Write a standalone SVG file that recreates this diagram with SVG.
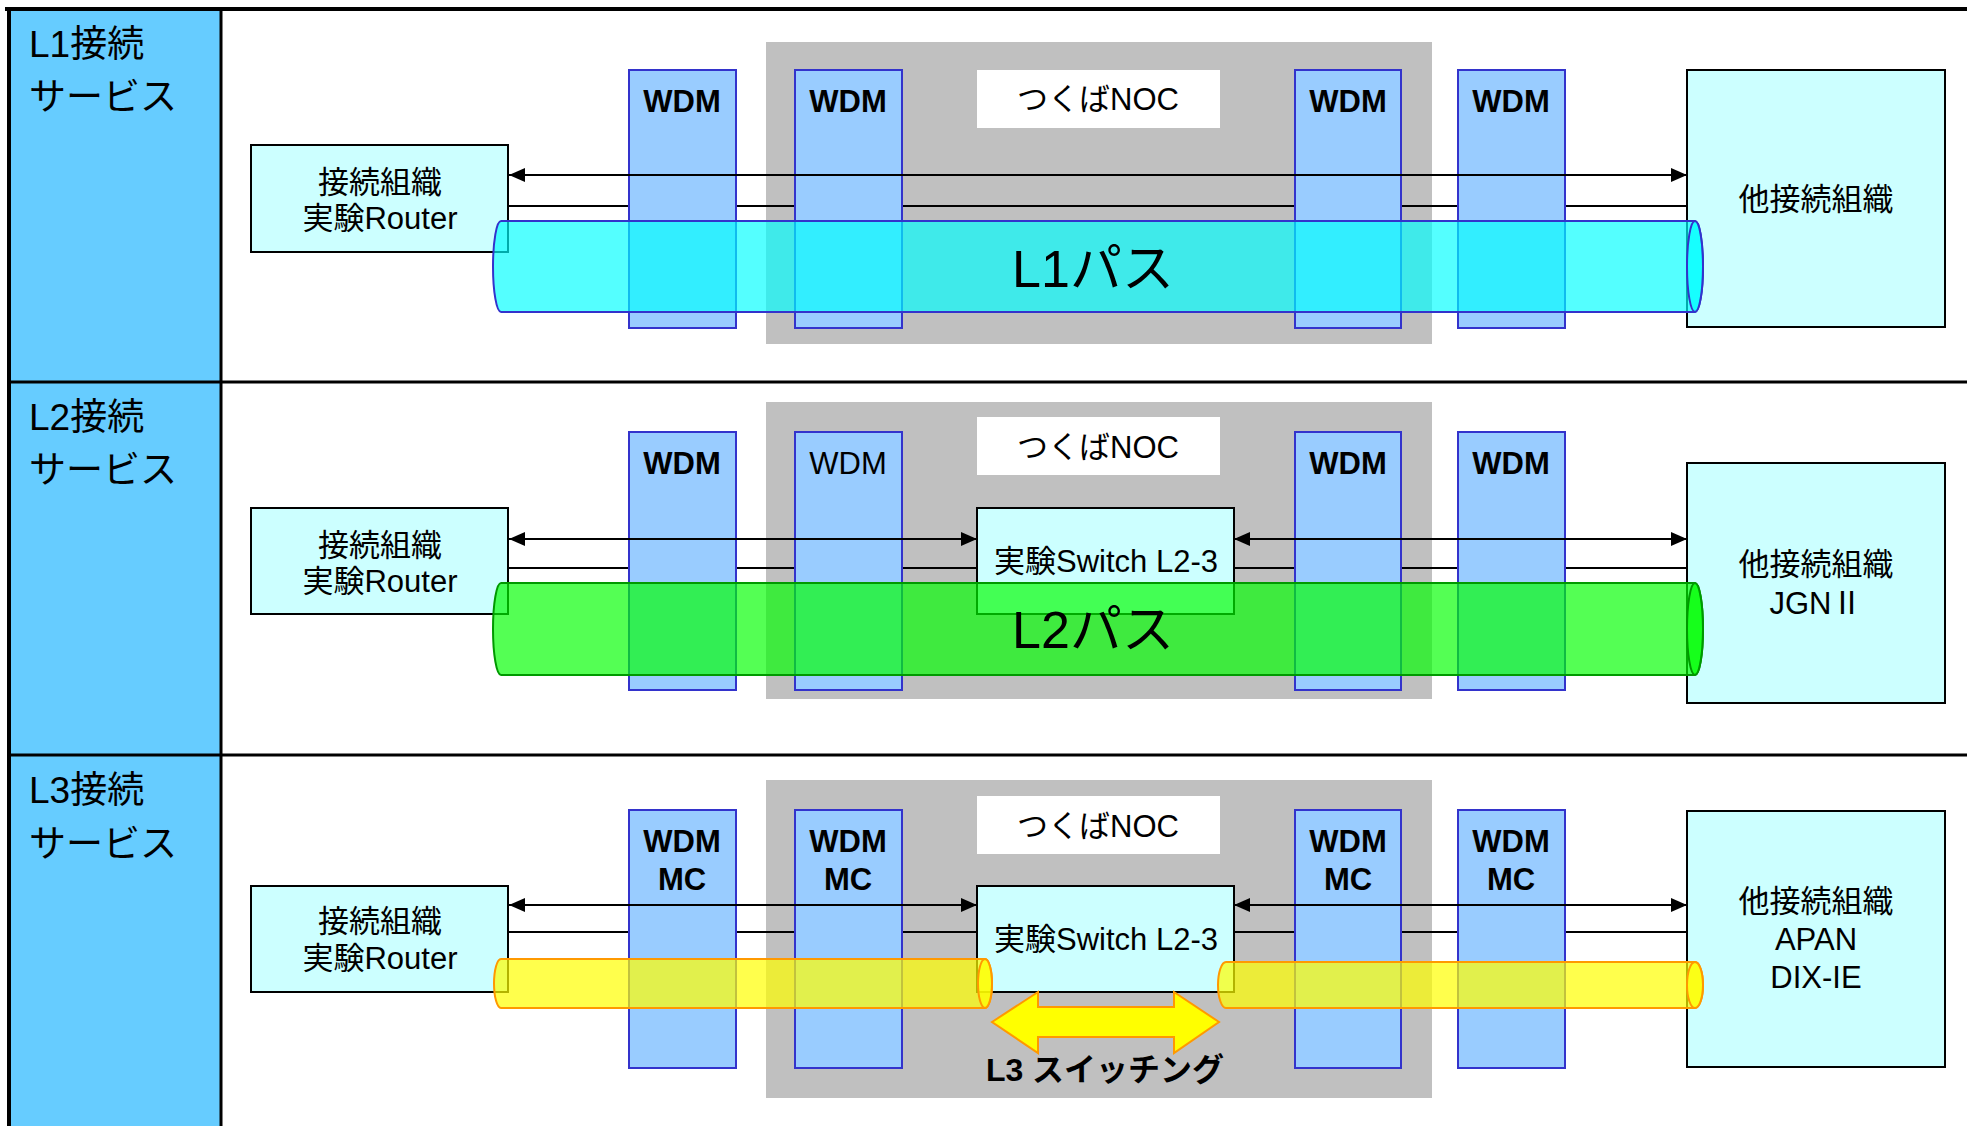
<svg xmlns="http://www.w3.org/2000/svg" width="1967" height="1126" viewBox="0 0 1967 1126">
<style>
.jp{font-family:"Liberation Sans","Noto Sans CJK JP",sans-serif;fill:#000}
.lbl{font-size:37px}
.box{font-size:31px;text-anchor:middle}
.wdm{font-family:"Liberation Sans",sans-serif;font-size:31px;font-weight:bold;text-anchor:middle}
.wdmr{font-family:"Liberation Sans",sans-serif;font-size:31px;text-anchor:middle}
.wdmbox{fill:#99CCFF;stroke:#3333CC;stroke-width:2}
.org{fill:#CCFFFF;stroke:#000;stroke-width:2}
.noc{fill:#C0C0C0}
.nocw{fill:#FFFFFF}
.ln{stroke:#000;stroke-width:2;fill:none}
.path{font-size:52px;text-anchor:middle}
.cyl1{fill:rgba(0,255,255,0.67);stroke:#3333CC;stroke-width:2}
.cyl2{fill:rgba(0,255,0,0.67);stroke:#009900;stroke-width:2}
.cyl3{fill:rgba(255,255,0,0.7);stroke:#FF9900;stroke-width:2}
</style>
<defs>
<marker id="ah" markerUnits="userSpaceOnUse" markerWidth="16" markerHeight="14" refX="16" refY="7" orient="auto-start-reverse" viewBox="0 0 16 14">
<path d="M0,0 L16,7 L0,14 Z" fill="#000"/>
</marker>
</defs>
<rect x="0" y="0" width="1967" height="1126" fill="#FFFFFF"/>
<g id="frame">
<rect x="11" y="11" width="210" height="1115" fill="#66CCFF"/>
<line x1="5" y1="9" x2="1967" y2="9" stroke="#000" stroke-width="4"/>
<line x1="9" y1="7" x2="9" y2="1126" stroke="#000" stroke-width="4"/>
<line x1="221" y1="9" x2="221" y2="1126" stroke="#000" stroke-width="3"/>
<line x1="9" y1="382" x2="1967" y2="382" stroke="#000" stroke-width="3"/>
<line x1="9" y1="755" x2="1967" y2="755" stroke="#000" stroke-width="3"/>
</g>
<g id="labels">
<text class="jp lbl" x="29" y="57">L1接続</text>
<text class="jp lbl" x="29" y="110">サービス</text>
<text class="jp lbl" x="29" y="430">L2接続</text>
<text class="jp lbl" x="29" y="483">サービス</text>
<text class="jp lbl" x="29" y="803">L3接続</text>
<text class="jp lbl" x="29" y="857">サービス</text>
</g>
<g id="noc1"><rect class="noc" x="766" y="42" width="666" height="302"/><rect class="nocw" x="977" y="70" width="243" height="58"/><text class="jp box" x="1098" y="110">つくばNOC</text></g>
<g id="noc2"><rect class="noc" x="766" y="402" width="666" height="297"/><rect class="nocw" x="977" y="417" width="243" height="58"/><text class="jp box" x="1098" y="458">つくばNOC</text></g>
<g id="noc3"><rect class="noc" x="766" y="780" width="666" height="318"/><rect class="nocw" x="977" y="796" width="243" height="58"/><text class="jp box" x="1098" y="837">つくばNOC</text></g>
<g id="connectors-under">
<line class="ln" x1="508" y1="206" x2="1688" y2="206"/>
<line class="ln" x1="508" y1="568" x2="977" y2="568"/>
<line class="ln" x1="1234" y1="568" x2="1688" y2="568"/>
<line class="ln" x1="508" y1="932" x2="977" y2="932"/>
<line class="ln" x1="1234" y1="932" x2="1688" y2="932"/>
</g>
<g id="wdm-row1">
<rect class="wdmbox" x="629" y="70" width="107" height="258"/><text class="wdm" x="682" y="112">WDM</text>
<rect class="wdmbox" x="795" y="70" width="107" height="258"/><text class="wdm" x="848" y="112">WDM</text>
<rect class="wdmbox" x="1295" y="70" width="106" height="258"/><text class="wdm" x="1348" y="112">WDM</text>
<rect class="wdmbox" x="1458" y="70" width="107" height="258"/><text class="wdm" x="1511" y="112">WDM</text>
</g>
<g id="wdm-row2">
<rect class="wdmbox" x="629" y="432" width="107" height="258"/><text class="wdm" x="682" y="474">WDM</text>
<rect class="wdmbox" x="795" y="432" width="107" height="258"/><text class="wdmr" x="848" y="474">WDM</text>
<rect class="wdmbox" x="1295" y="432" width="106" height="258"/><text class="wdm" x="1348" y="474">WDM</text>
<rect class="wdmbox" x="1458" y="432" width="107" height="258"/><text class="wdm" x="1511" y="474">WDM</text>
</g>
<g id="wdm-row3">
<rect class="wdmbox" x="629" y="810" width="107" height="258"/><text class="wdm" x="682" y="852">WDM</text><text class="wdm" x="682" y="890">MC</text>
<rect class="wdmbox" x="795" y="810" width="107" height="258"/><text class="wdm" x="848" y="852">WDM</text><text class="wdm" x="848" y="890">MC</text>
<rect class="wdmbox" x="1295" y="810" width="106" height="258"/><text class="wdm" x="1348" y="852">WDM</text><text class="wdm" x="1348" y="890">MC</text>
<rect class="wdmbox" x="1458" y="810" width="107" height="258"/><text class="wdm" x="1511" y="852">WDM</text><text class="wdm" x="1511" y="890">MC</text>
</g>
<g id="connectors">
<line class="ln" x1="509" y1="175" x2="1687" y2="175" marker-start="url(#ah)" marker-end="url(#ah)"/>
<line class="ln" x1="509" y1="539" x2="977" y2="539" marker-start="url(#ah)" marker-end="url(#ah)"/>
<line class="ln" x1="1234" y1="539" x2="1687" y2="539" marker-start="url(#ah)" marker-end="url(#ah)"/>
<line class="ln" x1="509" y1="905" x2="977" y2="905" marker-start="url(#ah)" marker-end="url(#ah)"/>
<line class="ln" x1="1234" y1="905" x2="1687" y2="905" marker-start="url(#ah)" marker-end="url(#ah)"/>
</g>
<g id="router1"><rect class="org" x="251" y="145" width="257" height="107"/><text class="jp box" x="380" y="193">接続組織</text><text class="jp box" x="380" y="229">実験Router</text></g>
<g id="router2"><rect class="org" x="251" y="508" width="257" height="106"/><text class="jp box" x="380" y="556">接続組織</text><text class="jp box" x="380" y="592">実験Router</text></g>
<g id="router3"><rect class="org" x="251" y="886" width="257" height="106"/><text class="jp box" x="380" y="932">接続組織</text><text class="jp box" x="380" y="969">実験Router</text></g>
<g id="other1"><rect class="org" x="1687" y="70" width="258" height="257"/><text class="jp box" x="1816" y="210">他接続組織</text></g>
<g id="other2"><rect class="org" x="1687" y="463" width="258" height="240"/><text class="jp box" x="1816" y="575">他接続組織</text><text class="jp box" x="1816" y="614">JGN<tspan font-family="'Noto Sans CJK JP',sans-serif">Ⅱ</tspan></text></g>
<g id="other3"><rect class="org" x="1687" y="811" width="258" height="256"/><text class="jp box" x="1816" y="912">他接続組織</text><text class="jp box" x="1816" y="950">APAN</text><text class="jp box" x="1816" y="988">DIX-IE</text></g>
<g id="switch2"><rect class="org" x="977" y="508" width="257" height="106"/><text class="jp box" x="1106" y="572">実験Switch L2-3</text></g>
<g id="switch3"><rect class="org" x="977" y="886" width="257" height="106"/><text class="jp box" x="1106" y="950">実験Switch L2-3</text></g>
<g id="l1path">
<path class="cyl1" d="M501,221 L1695,221 A8,45.5 0 0 1 1695,312 L501,312 A8,45.5 0 0 1 501,221 Z"/>
<ellipse class="cyl1" cx="1695" cy="266.5" rx="8" ry="45.5"/>
<text class="jp path" x="1093" y="287">L1パス</text>
</g>
<g id="l2path">
<path class="cyl2" d="M501,583 L1695,583 A8,46 0 0 1 1695,675 L501,675 A8,46 0 0 1 501,583 Z"/>
<ellipse class="cyl2" cx="1695" cy="629" rx="8" ry="46"/>
<text class="jp path" x="1093" y="648">L2パス</text>
</g>
<g id="l3path-left">
<path class="cyl3" d="M501,959 L985,959 A7,24.5 0 0 1 985,1008 L501,1008 A7,24.5 0 0 1 501,959 Z"/>
<ellipse class="cyl3" cx="985" cy="983.5" rx="7" ry="24.5"/>
</g>
<g id="l3path-right">
<path class="cyl3" d="M1226,962 L1695,962 A8,23 0 0 1 1695,1008 L1226,1008 A8,23 0 0 1 1226,962 Z"/>
<ellipse class="cyl3" cx="1695" cy="985" rx="8" ry="23"/>
</g>
<g id="l3switching">
<polygon points="992,1022 1038,992 1038,1007 1174,1007 1174,992 1219,1022 1174,1053 1174,1037 1038,1037 1038,1053" fill="#FFFF00" stroke="#FF9900" stroke-width="2"/>
<text class="jp" x="1105" y="1081" font-size="32" font-weight="bold" text-anchor="middle">L3 スイッチング</text>
</g>
</svg>
